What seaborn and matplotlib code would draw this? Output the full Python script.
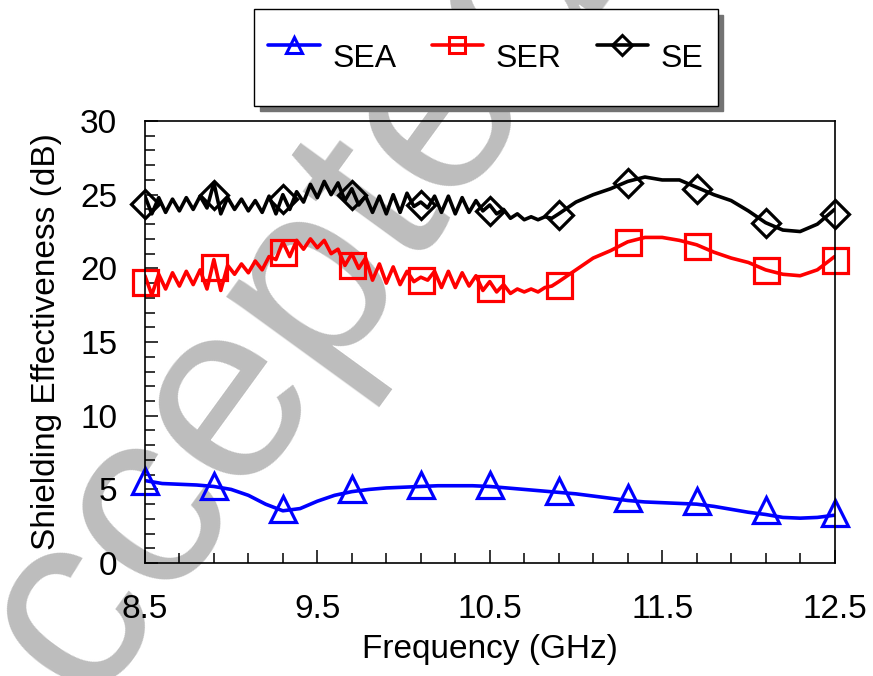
import numpy as np
import pandas as pd
import matplotlib
matplotlib.use("Agg")
import matplotlib.pyplot as plt
from matplotlib.lines import Line2D
import seaborn as sns

# --- data ---
# wiggly part, 8.50 .. 10.90 GHz every 0.04 GHz
freq_fine = [8.50, 8.54, 8.58, 8.62, 8.66, 8.70, 8.74, 8.78, 8.82, 8.86,
             8.90, 8.94, 8.98, 9.02, 9.06, 9.10, 9.14, 9.18, 9.22, 9.26,
             9.30, 9.34, 9.38, 9.42, 9.46, 9.50, 9.54, 9.58, 9.62, 9.66,
             9.70, 9.74, 9.78, 9.82, 9.86, 9.90, 9.94, 9.98, 10.02, 10.06,
             10.10, 10.14, 10.18, 10.22, 10.26, 10.30, 10.34, 10.38, 10.42, 10.46,
             10.50, 10.54, 10.58, 10.62, 10.66, 10.70, 10.74, 10.78, 10.82, 10.86,
             10.90]
se_fine = [24.9, 23.7, 24.8, 23.8, 24.7, 23.9, 24.8, 24.0, 24.9, 24.1,
           25.8, 23.7, 24.8, 24.0, 24.7, 23.9, 24.6, 23.8, 24.9, 23.7,
           25.0, 24.0, 25.2, 24.5, 25.7, 24.8, 25.9, 25.0, 25.8, 24.6,
           25.4, 24.3, 24.9, 23.8, 24.9, 23.7, 25.0, 23.8, 25.1, 24.2,
           24.5, 24.1, 24.9, 23.8, 24.9, 23.7, 24.8, 23.8, 24.6, 23.9,
           24.3, 23.7, 24.0, 23.4, 23.7, 23.3, 23.5, 23.3, 23.5, 23.4,
           23.7]
ser_fine = [19.5, 18.2, 19.6, 18.6, 19.7, 18.8, 19.8, 18.9, 19.9, 18.6,
            20.6, 18.5, 20.2, 19.6, 20.3, 19.7, 20.5, 19.9, 20.8, 20.6,
            21.8, 20.8, 21.9, 21.3, 22.0, 21.4, 21.9, 21.0, 21.3, 20.2,
            21.0, 20.0, 20.7, 19.2, 20.3, 19.0, 20.1, 18.9, 19.8, 19.1,
            19.4, 19.2, 19.8, 18.7, 19.8, 18.7, 19.7, 18.8, 19.5, 18.5,
            19.1, 18.4, 18.9, 18.3, 18.6, 18.4, 18.6, 18.4, 18.7, 18.8,
            19.1]
# smooth part, 11.0 .. 12.5 GHz
freq_coarse = [11.0, 11.1, 11.2, 11.3, 11.4, 11.5, 11.6, 11.7, 11.8, 11.9,
               12.0, 12.1, 12.2, 12.3, 12.4, 12.5]
se_coarse = [24.5, 25.0, 25.4, 25.9, 26.2, 26.0, 26.0, 25.5, 25.0, 24.6,
             23.9, 23.1, 22.6, 22.5, 23.0, 24.0]
ser_coarse = [19.9, 20.7, 21.2, 21.8, 22.1, 22.1, 21.9, 21.6, 21.1, 20.7,
              20.4, 19.9, 19.6, 19.5, 19.9, 20.8]

# SEA is smooth over the whole band
freq_sea = [8.5, 8.6, 8.7, 8.8, 8.9, 9.0, 9.1, 9.2, 9.3, 9.4, 9.5, 9.6, 9.7,
            9.8, 9.9, 10.0, 10.1, 10.2, 10.3, 10.4, 10.5, 10.6, 10.7, 10.8,
            10.9, 11.0, 11.1, 11.2, 11.3, 11.4, 11.5, 11.6, 11.7, 11.8, 11.9,
            12.0, 12.1, 12.2, 12.3, 12.4, 12.5]
sea = [5.6, 5.4, 5.35, 5.3, 5.2, 5.0, 4.6, 4.0, 3.55, 3.7, 4.2, 4.6, 4.85,
       5.0, 5.1, 5.15, 5.2, 5.25, 5.25, 5.25, 5.2, 5.1, 5.0, 4.9,
       4.8, 4.7, 4.55, 4.4, 4.25, 4.15, 4.1, 4.05, 4.0, 3.85, 3.65,
       3.45, 3.3, 3.1, 3.05, 3.1, 3.25]

# marker positions (every 0.4 GHz)
freq_mark = [8.5, 8.9, 9.3, 9.7, 10.1, 10.5, 10.9, 11.3, 11.7, 12.1, 12.5]
sea_mark = [5.6, 5.2, 3.7, 5.0, 5.3, 5.3, 4.9, 4.4, 4.2, 3.6, 3.4]
ser_mark = [19.1, 20.1, 21.1, 20.2, 19.2, 18.7, 18.9, 21.8, 21.5, 19.9, 20.6]
se_mark = [24.4, 25.0, 24.7, 25.0, 24.3, 23.9, 23.6, 25.8, 25.4, 23.1, 23.7]

df_se = pd.DataFrame({"f": freq_fine + freq_coarse, "v": se_fine + se_coarse})
df_ser = pd.DataFrame({"f": freq_fine + freq_coarse, "v": ser_fine + ser_coarse})
df_sea = pd.DataFrame({"f": freq_sea, "v": sea})

sns.set_theme(style="ticks")
plt.rcParams["font.family"] = ["Liberation Sans", "DejaVu Sans"]
plt.rcParams["text.color"] = "black"
plt.rcParams["axes.labelcolor"] = "black"

fig = plt.figure(figsize=(8.73, 6.76), dpi=100)
ax = fig.add_axes([0.166, 0.167, 0.790, 0.654])
ax.set_facecolor("none")

# grey watermark behind the plot
fig.text(-0.01, -0.26, "Accepted Manuscript", fontsize=185, family="Liberation Sans",
         color="#bdbdbd", rotation=54, rotation_mode="anchor", ha="left",
         va="baseline", zorder=-1)

lw = 2.6
sns.lineplot(data=df_sea, x="f", y="v", color="blue", linewidth=lw, ax=ax)
sns.lineplot(data=df_ser, x="f", y="v", color="red", linewidth=lw, ax=ax)
sns.lineplot(data=df_se, x="f", y="v", color="black", linewidth=lw, ax=ax)

ax.plot(freq_mark, sea_mark, ls="none", marker="^", ms=19, mfc="none", mec="blue", mew=2.3, clip_on=False)
ax.plot(freq_mark, ser_mark, ls="none", marker="s", ms=18, mfc="none", mec="red", mew=2.3, clip_on=False)
ax.plot(freq_mark, se_mark, ls="none", marker="D", ms=14, mfc="none", mec="black", mew=2.3, clip_on=False)

ax.set_xlim(8.5, 12.5)
ax.set_ylim(0, 30)
ax.set_xticks([8.5, 9.5, 10.5, 11.5, 12.5])
ax.set_xticks(np.arange(8.5, 12.51, 0.2), minor=True)
ax.set_yticks([0, 5, 10, 15, 20, 25, 30])
ax.set_yticks(np.arange(0, 31, 1), minor=True)
ax.tick_params(which="both", direction="in", width=1.1, colors="black", labelsize=24)
ax.tick_params(which="major", length=9.5)
ax.tick_params(which="minor", length=7.5)
ax.tick_params(axis="x", pad=22)
ax.tick_params(axis="y", pad=20)
for s in ax.spines.values():
    s.set_visible(True)
    s.set_linewidth(1.2)
    s.set_color("black")

ax.set_xlabel("Frequency (GHz)", fontsize=24, labelpad=7)
ax.set_ylabel("Shielding Effectiveness (dB)", fontsize=24, labelpad=13)

handles = [
    Line2D([], [], color="blue", lw=lw, marker="^", ms=12, mfc="none", mew=2.2),
    Line2D([], [], color="red", lw=lw, marker="s", ms=12, mfc="none", mew=2.2),
    Line2D([], [], color="black", lw=lw, marker="D", ms=10, mfc="none", mew=2.2),
]
leg = fig.legend(handles, ["SEA", "SER", "SE"], ncol=3, loc="center",
                 bbox_to_anchor=(0.5565, 0.915), fontsize=23, frameon=True,
                 fancybox=False, edgecolor="black", borderpad=0.45,
                 handlelength=1.6, handleheight=2.9, handletextpad=0.4,
                 columnspacing=1.1,
                 shadow={"ox": 4, "oy": -4, "color": "0.45", "alpha": 1})
leg.get_frame().set_linewidth(1.0)

plt.savefig("out.png", dpi=100)
